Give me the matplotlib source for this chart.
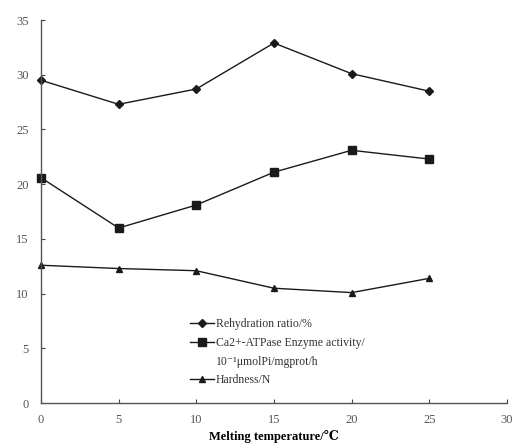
import matplotlib
matplotlib.use("Agg")
import matplotlib.pyplot as plt
from matplotlib.lines import Line2D

temps = [0, 5, 10, 15, 20, 25]
rehydration = [29.5, 27.3, 28.7, 32.9, 30.1, 28.5]
atpase = [20.6, 16.0, 18.1, 21.1, 23.1, 22.3]
hardness = [12.6, 12.3, 12.1, 10.5, 10.1, 11.4]
labels = ["Rehydration ratio/%",
          "Ca2+-ATPase Enzyme activity/",
          "10⁻¹μmolPi/mgprot/h",
          "Hardness/N"]
xticks = [0, 5, 10, 15, 20, 25, 30]
yticks = [0, 5, 10, 15, 20, 25, 30, 35]

plt.rcParams['font.family'] = ['Liberation Serif', 'DejaVu Serif']

fig = plt.figure(figsize=(5.12, 4.45), dpi=100)
ax = fig.add_axes([0.080, 0.094, 0.910, 0.861])
c = '#1a1a1a'
h1, = ax.plot(temps, rehydration, marker='D', ms=4, color=c, lw=1.0, clip_on=False)
h2, = ax.plot(temps, atpase, marker='s', ms=6, color=c, lw=1.0, clip_on=False)
h3, = ax.plot(temps, hardness, marker='^', ms=5, color=c, lw=1.0, clip_on=False)
blank = Line2D([], [], color='none')

ax.set_xlim(0, 30)
ax.set_ylim(0, 35)
ax.set_xticks(xticks)
ax.set_yticks(yticks)
ax.tick_params(axis='both', direction='in', length=3, labelsize=9,
               colors='#444444', labelcolor='#555555')
ax.tick_params(axis='y', pad=9)
ax.tick_params(axis='x', pad=8)
for s in ['top', 'right']:
    ax.spines[s].set_visible(False)
for s in ['left', 'bottom']:
    ax.spines[s].set_color('#555555')
    ax.spines[s].set_linewidth(1.0)
ax.set_xlabel("Melting temperature/\u2103", fontsize=9, fontweight='bold', labelpad=3)

leg = ax.legend([h1, h2, blank, h3], labels, loc='upper left',
                bbox_to_anchor=(0.31, 0.235), frameon=False,
                fontsize=8.5, handlelength=2.0, handletextpad=0.2, labelspacing=0.58,
                borderaxespad=0)
for t in leg.get_texts():
    t.set_color('#333333')
fig.savefig("out.png", dpi=100)
